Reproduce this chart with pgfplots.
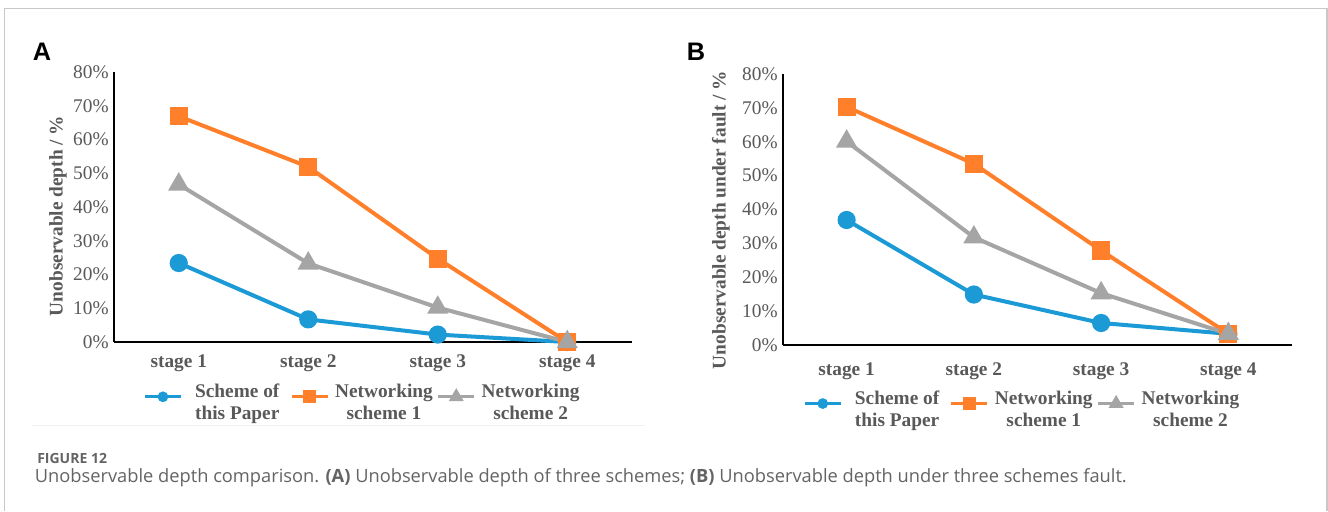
\documentclass[border=0pt]{standalone}
\usepackage{fontspec}
\setmainfont{Liberation Serif}
\newfontfamily\sansf{Liberation Sans}
\newfontfamily\capf{Open Sans}
\usepackage{pgfplots}
\pgfplotsset{compat=1.18}
\definecolor{cblue}{HTML}{1B9AD6}
\definecolor{corange}{HTML}{FF7F2A}
\definecolor{cgray}{HTML}{A5A5A5}
\definecolor{tgray}{HTML}{595959}
\definecolor{capgray}{HTML}{646464}
\definecolor{framegray}{HTML}{C8C8C8}
\newcommand\cf{\fontsize{14.5pt}{16.5pt}\selectfont}
\newcommand\legtxt[2]{\begin{tabular}{@{}c@{}}\makebox[60pt]{#1}\\\makebox[60pt]{#2}\end{tabular}}
\pgfplotsset{
  panel/.style={
    scale only axis, anchor=south west, clip=false,
    xmin=0.5, xmax=4.5, ymin=0, ymax=80,
    axis lines=left, axis line style={-},
    x axis line style={line width=2pt, black},
    y axis line style={line width=1.5pt, black},
    xtick={1,2,3,4}, xticklabels={stage 1,stage 2,stage 3,stage 4},
    ytick={0,10,20,30,40,50,60,70,80},
    yticklabels={0\%,10\%,20\%,30\%,40\%,50\%,60\%,70\%,80\%},
    tick style={draw=none}, major tick length=0pt,
    tick label style={font=\cf, text=tgray},
    yticklabel style={xshift=-0.5pt},
    xticklabel style={font=\cf\bfseries, text=tgray},
    ylabel style={font=\cf\bfseries, text=tgray, anchor=center},
    legend columns=3,
    legend style={draw=none, fill=none, inner sep=0pt, anchor=west,
      font=\cf\bfseries, text=tgray, cells={anchor=center},
      /tikz/every odd column/.append style={column sep=9pt},
      /tikz/every even column/.append style={column sep=7.5pt}},
    legend image code/.code={\draw[mark repeat=2,mark phase=2,##1] plot coordinates {(0pt,0pt) (13.5pt,0pt) (27pt,0pt)};},
  },
  sblue/.style={color=cblue, line width=3pt, mark=*, mark size=5.3pt, mark options={solid}},
  sorange/.style={color=corange, line width=3pt, mark=square*, mark size=5.3pt, mark options={solid}},
  sgray/.style={color=cgray, line width=3pt, mark=triangle*, mark size=6.2pt, mark options={solid}},
}
\begin{document}
\begin{tikzpicture}
\path[use as bounding box, fill=white] (0,0) rectangle (996pt,383.25pt);
% frame
\draw[framegray, line width=0.9pt] (3.6pt,0) -- (3.6pt,376.9pt) -- (995.2pt,376.9pt) -- (995.2pt,0);
\draw[gray!12, line width=0.6pt] (24pt,64.5pt) -- (484pt,64.5pt);
% panel letters
\node[font=\sansf\bfseries\fontsize{19pt}{22pt}\selectfont] at (31.5pt,344.25pt) {A};
\node[font=\sansf\bfseries\fontsize{19pt}{22pt}\selectfont] at (522pt,344.25pt) {B};

\begin{axis}[panel, at={(85.5pt,126.75pt)}, width=388.5pt, height=202.5pt,
  xticklabel style={yshift=-6pt},
  ylabel={Unobservable depth / \%},
  ylabel style={at={(axis description cs:-0.108,0.467)}},
  legend style={at={(axis description cs:0.056,-0.203)}}]
\addplot[sblue, forget plot] coordinates {(1,23.4) (2,6.7) (3,2.2) (4,0)};
\addplot[sorange, forget plot] coordinates {(1,66.9) (2,51.9) (3,24.7) (4,0)};
\addplot[sgray, forget plot] coordinates {(1,46.7) (2,23.3) (3,10.2) (4,0)};
\addlegendimage{color=cblue, line width=2.5pt, mark=*, mark size=2.7pt, mark options={solid}}
\addlegendentry{\legtxt{Scheme of}{this Paper}}
\addlegendimage{color=corange, line width=2.5pt, mark=square*, mark size=3.6pt, mark options={solid}}
\addlegendentry{\legtxt{Networking}{scheme 1}}
\addlegendimage{color=cgray, line width=2.5pt, mark=triangle*, mark size=4pt, mark options={solid}}
\addlegendentry{\legtxt{Networking}{scheme 2}}
\end{axis}

\begin{axis}[panel, at={(587.25pt,124.5pt)}, width=381.75pt, height=203.25pt,
  xticklabel style={yshift=-9.5pt},
  ylabel={Unobservable depth under fault / \%},
  ylabel style={at={(axis description cs:-0.122,0.461)}},
  legend style={at={(axis description cs:0.039,-0.216)}}]
\addplot[sblue, forget plot] coordinates {(1,36.9) (2,14.9) (3,6.5) (4,3.3)};
\addplot[sorange, forget plot] coordinates {(1,70.3) (2,53.5) (3,27.9) (4,3.3)};
\addplot[sgray, forget plot] coordinates {(1,60.1) (2,31.8) (3,15.3) (4,3.3)};
\addlegendimage{color=cblue, line width=2.5pt, mark=*, mark size=2.7pt, mark options={solid}}
\addlegendentry{\legtxt{Scheme of}{this Paper}}
\addlegendimage{color=corange, line width=2.5pt, mark=square*, mark size=3.6pt, mark options={solid}}
\addlegendentry{\legtxt{Networking}{scheme 1}}
\addlegendimage{color=cgray, line width=2.5pt, mark=triangle*, mark size=4pt, mark options={solid}}
\addlegendentry{\legtxt{Networking}{scheme 2}}
\end{axis}

% caption
\node[anchor=base west, inner sep=0pt, text=capgray, font=\capf\bfseries\fontsize{10.5pt}{12pt}\selectfont] at (27.75pt,36pt) {FIGURE 12};
\node[anchor=base west, inner sep=0pt, text=capgray, font=\capf\fontsize{13.7pt}{15pt}\selectfont] at (26pt,21.75pt) {Unobservable depth comparison. \textbf{(A)} Unobservable depth of three schemes; \textbf{(B)} Unobservable depth under three schemes fault.};
\end{tikzpicture}
\end{document}
